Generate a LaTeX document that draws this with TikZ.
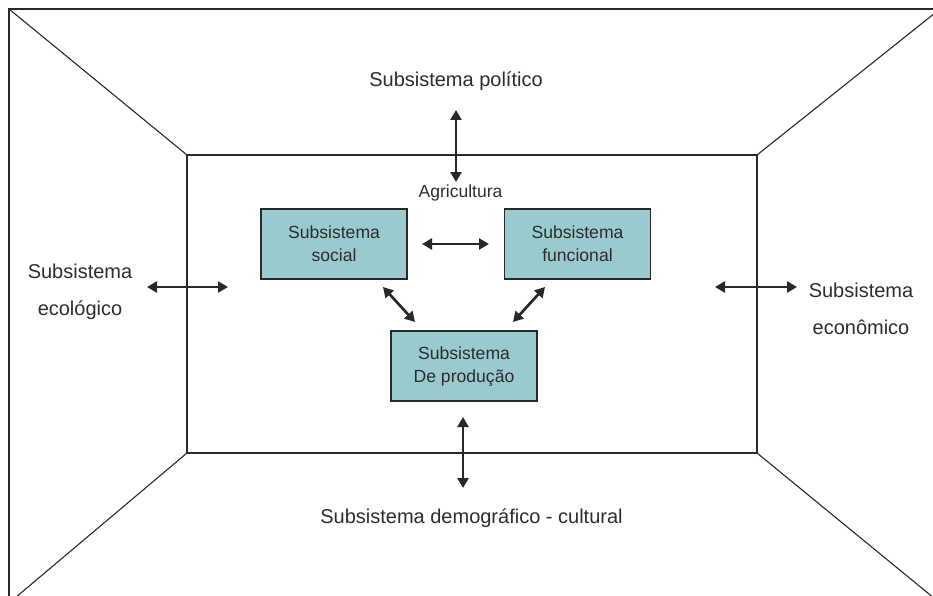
\documentclass[tikz,border=0pt]{standalone}
\usepackage{fontspec}
\setmainfont{Liberation Sans}
\usetikzlibrary{arrows.meta}
\definecolor{boxfill}{RGB}{152,202,206}
\definecolor{ink}{RGB}{40,40,40}
\definecolor{txt}{RGB}{45,45,45}
\tikzset{
  frame/.style={draw=ink, line width=1.1pt},
  subbox/.style={draw=ink, line width=1.1pt, fill=boxfill, minimum width=146pt, minimum height=70pt,
    inner sep=0pt, align=center, text=txt, font=\fontsize{17.6}{23}\selectfont},
  outlbl/.style={text=txt, font=\fontsize{20}{37}\selectfont, align=center, inner sep=0pt},
  smalllbl/.style={text=txt, font=\fontsize{17.5}{21}\selectfont, inner sep=0pt},
  dbl/.style={draw=ink, line width=2.7pt, {Triangle[length=10pt,width=11pt]}-{Triangle[length=10pt,width=11pt]}}
}
\begin{document}
\begin{tikzpicture}[x=1pt,y=-1pt]
\useasboundingbox (0,0) rectangle (933,596);
\begin{scope}
\clip (0,0) rectangle (933,596);
% frame
\coordinate (O1) at (9,9);
\coordinate (O2) at (940,9);
\coordinate (O3) at (940,603);
\coordinate (O4) at (9,603);
\coordinate (I1) at (187,155);
\coordinate (I2) at (757,155);
\coordinate (I3) at (757,453);
\coordinate (I4) at (187,453);
\draw[frame] (O4) -- (O1) -- (O2);
\draw[frame] (I1) -- (I2) -- (I3) -- (I4) -- cycle;
\draw[frame] (O1) -- (I1);
\draw[frame] (O2) -- (I2);
\draw[frame] (O3) -- (I3);
\draw[frame] (O4) -- (I4);
\end{scope}
% boxes
\node[subbox] (social) at (334,244) {Subsistema\\social};
\node[subbox] (func) at (577.5,244) {Subsistema\\funcional};
\node[subbox] (prod) at (464,366) {Subsistema\\De produção};
% labels
\node[outlbl, anchor=base] (pol) at (456,87) {Subsistema político};
\node[smalllbl, anchor=base] (agri) at (460.5,197) {Agricultura};
\node[outlbl, anchor=base] (eco) at (80,315) {Subsistema\\ecológico};
\node[outlbl, anchor=base] (econ) at (861,334) {Subsistema\\econômico};
\node[outlbl, anchor=base] (demo) at (471.5,523) {Subsistema demográfico - cultural};
% arrow ends
\coordinate (polA) at (456,110);
\coordinate (polB) at (456,182);
\coordinate (sfA) at (422,244);
\coordinate (sfB) at (489,244);
\coordinate (spA) at (383,287);
\coordinate (spB) at (415,322);
\coordinate (fpA) at (545,287);
\coordinate (fpB) at (513,322);
\coordinate (dmA) at (463,417);
\coordinate (dmB) at (463,488);
\coordinate (ecA) at (147,287);
\coordinate (ecB) at (228,287);
\coordinate (enA) at (715,287);
\coordinate (enB) at (797,287);
\draw[dbl] (polA) -- (polB);
\draw[dbl] (sfA) -- (sfB);
\draw[dbl] (spA) -- (spB);
\draw[dbl] (fpA) -- (fpB);
\draw[dbl] (dmA) -- (dmB);
\draw[dbl] (ecA) -- (ecB);
\draw[dbl] (enA) -- (enB);
\end{tikzpicture}
\end{document}
